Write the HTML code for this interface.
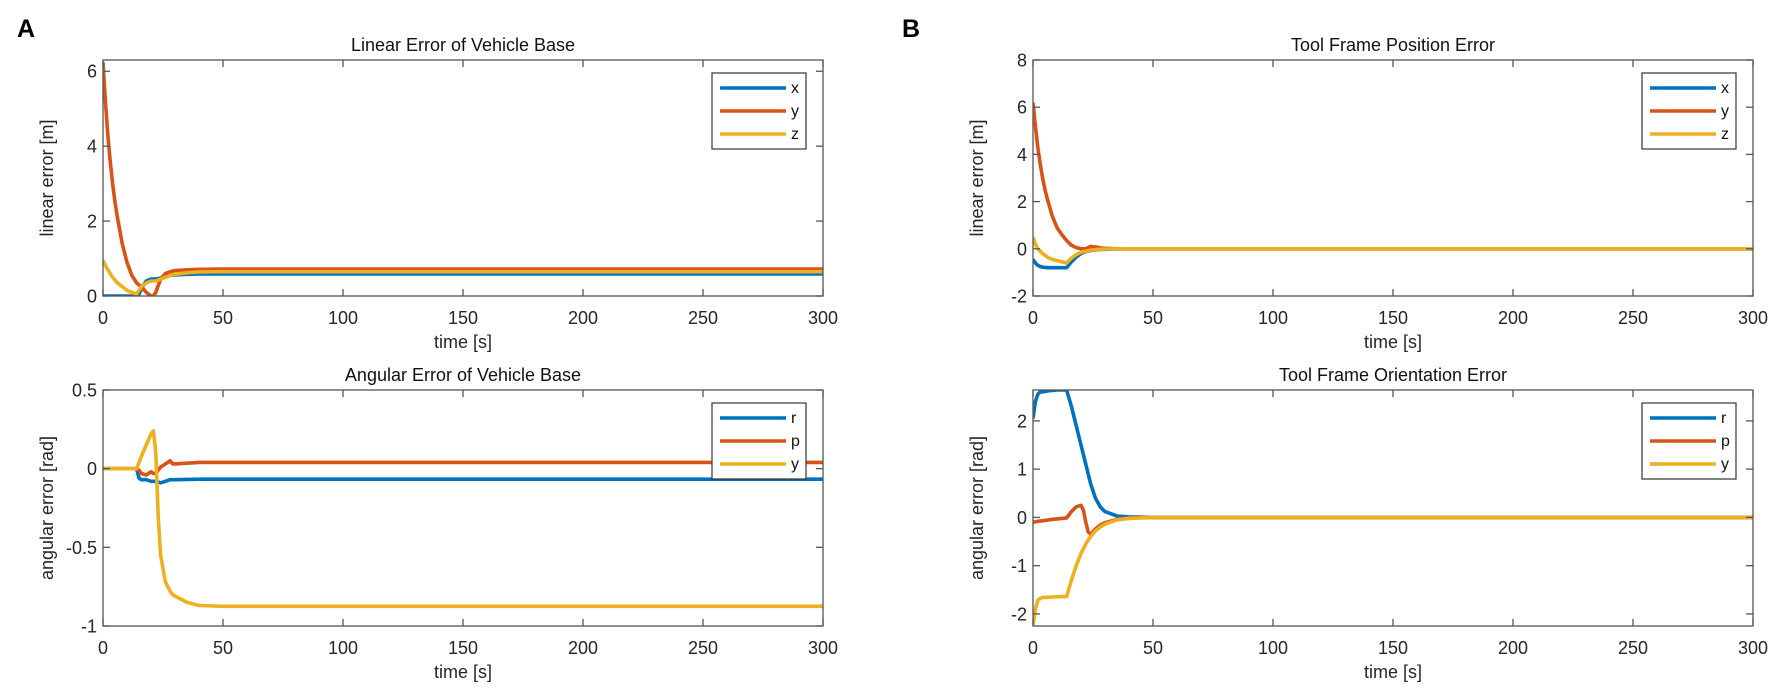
<!DOCTYPE html>
<html><head><meta charset="utf-8"><style>
html,body{margin:0;padding:0;background:#fff;}
svg{display:block;font-family:"Liberation Sans",Arial,sans-serif;}
</style></head><body>
<svg id="fig" width="1772" height="690" viewBox="0 0 1772 690">
<text x="17" y="37" font-size="25" font-weight="bold">A</text>
<text x="902" y="37" font-size="25" font-weight="bold">B</text>
</svg>
<script>
// ---- data ----
const timeTicks = [0,50,100,150,200,250,300];
const seriesColors = ["#0072BD","#D95319","#EDB120"];

// Panel A top: Linear Error of Vehicle Base
const aTopT = [0,1,2,3,4,5,6,8,10,12,14,15,16,18,20,21,22,24,26,28,30,35,40,50,300];
const aTopX = [0,0,0,0,0,0,0,0,0,0,0,0.05,0.2,0.4,0.45,0.45,0.45,0.48,0.52,0.55,0.56,0.58,0.59,0.59,0.59];
const aTopY = [6.24,5.2,4.3,3.6,3.0,2.5,2.1,1.4,0.9,0.55,0.35,0.3,0.25,0.1,0.0,0.0,0.1,0.45,0.6,0.65,0.68,0.7,0.71,0.72,0.72];
const aTopZ = [0.95,0.82,0.7,0.6,0.5,0.42,0.35,0.25,0.15,0.1,0.05,0.15,0.25,0.35,0.4,0.4,0.4,0.45,0.5,0.55,0.58,0.62,0.64,0.65,0.65];
const aTopYTicks = [0,2,4,6];

// Panel A bottom: Angular Error of Vehicle Base
const aBotT = [0,10,14,15,16,18,20,21,22,23,24,26,28,29,30,35,40,50,300];
const aBotR = [0,0,0,-0.06,-0.07,-0.07,-0.08,-0.08,-0.08,-0.085,-0.09,-0.08,-0.07,-0.07,-0.07,-0.068,-0.067,-0.067,-0.067];
const aBotP = [0,0,0,-0.01,-0.03,-0.04,-0.02,-0.03,-0.03,-0.01,0.01,0.03,0.05,0.03,0.03,0.035,0.04,0.04,0.04];
const aBotY = [0,0,0,0.04,0.08,0.15,0.22,0.24,0.1,-0.3,-0.55,-0.72,-0.78,-0.8,-0.81,-0.85,-0.87,-0.875,-0.875];
const aBotYTicks = [-1,-0.5,0,0.5];

// Panel B top: Tool Frame Position Error
const bTopT = [0,1,2,3,4,5,6,8,10,12,14,16,18,20,22,24,26,28,30,35,300];
const bTopX = [-0.45,-0.6,-0.7,-0.75,-0.78,-0.79,-0.8,-0.8,-0.8,-0.8,-0.8,-0.55,-0.35,-0.2,-0.12,-0.07,-0.05,-0.03,-0.02,0,0];
const bTopY = [6.2,5.2,4.3,3.6,3.0,2.5,2.1,1.4,0.9,0.6,0.35,0.15,0.05,0.0,0.0,0.1,0.08,0.04,0.02,0,0];
const bTopZ = [0.5,0.2,0.0,-0.1,-0.2,-0.28,-0.35,-0.45,-0.5,-0.55,-0.6,-0.4,-0.25,-0.15,-0.1,-0.06,-0.04,-0.02,-0.01,0,0];
const bTopYTicks = [-2,0,2,4,6,8];

// Panel B bottom: Tool Frame Orientation Error
const bBotT = [0,1,2,3,4,6,8,10,12,14,16,18,20,21,22,23,24,26,28,30,35,40,50,300];
const bBotR = [2.05,2.4,2.55,2.6,2.6,2.62,2.63,2.64,2.64,2.64,2.3,1.9,1.5,1.3,1.1,0.9,0.7,0.4,0.22,0.12,0.03,0.01,0,0];
const bBotP = [-0.1,-0.09,-0.08,-0.075,-0.07,-0.055,-0.04,-0.03,-0.02,-0.01,0.12,0.22,0.25,0.15,-0.1,-0.3,-0.35,-0.24,-0.16,-0.11,-0.04,-0.01,0,0];
const bBotY = [-2.24,-1.9,-1.72,-1.68,-1.66,-1.655,-1.65,-1.645,-1.64,-1.64,-1.3,-1.0,-0.75,-0.65,-0.55,-0.47,-0.4,-0.28,-0.2,-0.14,-0.05,-0.02,0,0];
const bBotYTicks = [-2,-1,0,1,2];

const NS = "http://www.w3.org/2000/svg";
const svg = document.getElementById("fig");
function mk(tag, attrs, parent){
  const e = document.createElementNS(NS, tag);
  for (const k in attrs) e.setAttribute(k, attrs[k]);
  (parent||svg).appendChild(e);
  return e;
}
let clipId = 0;
function panel(cfg){
  const {x0,x1,y0,y1,ymin,ymax,yTicks,title,ylabel,t,series,labels,prefix} = cfg;
  const g = mk("g", {});
  
  
  const sx = v => x0 + (v - 0) / 300 * (x1 - x0);
  const sy = v => y1 - (v - ymin) / (ymax - ymin) * (y1 - y0);
  const cid = "clip" + (clipId++);
  const cp = mk("clipPath", {id: cid}, g);
  mk("rect", {x: x0, y: y0, width: x1 - x0, height: y1 - y0}, cp);
  // series
  series.forEach((vals, i) => {
    const d = vals.map((v, k) => (k ? "L" : "M") + sx(t[k]).toFixed(1) + "," + sy(v).toFixed(1)).join(" ");
    const p = mk("path", {d: d, fill: "none", stroke: seriesColors[i], "stroke-width": 3.6, "stroke-linejoin": "round", "clip-path": "url(#" + cid + ")"}, g);
    
    
  });
  // axes box
  const box = mk("rect", {x: x0, y: y0, width: x1 - x0, height: y1 - y0, fill: "none", stroke: "#555", "stroke-width": 1.3}, g);
  
  
  // x ticks
  timeTicks.forEach(v => {
    const X = sx(v);
    mk("line", {x1: X, x2: X, y1: y1, y2: y1 - 7, stroke: "#555", "stroke-width": 1.3}, g);
    mk("line", {x1: X, x2: X, y1: y0, y2: y0 + 7, stroke: "#555", "stroke-width": 1.3}, g);
    const tl = mk("text", {x: X, y: y1 + 28, "font-size": 18, "text-anchor": "middle", fill: "#262626"}, g);
    tl.textContent = v;
    
    
  });
  yTicks.forEach(v => {
    const Y = sy(v);
    mk("line", {x1: x0, x2: x0 + 7, y1: Y, y2: Y, stroke: "#555", "stroke-width": 1.3}, g);
    mk("line", {x1: x1, x2: x1 - 7, y1: Y, y2: Y, stroke: "#555", "stroke-width": 1.3}, g);
    const tl = mk("text", {x: x0 - 6, y: Y + 6.5, "font-size": 18, "text-anchor": "end", fill: "#262626"}, g);
    tl.textContent = v;
    
    
  });
  const tt = mk("text", {x: (x0 + x1) / 2, y: y0 - 9, "font-size": 18, "text-anchor": "middle", fill: "#111"}, g);
  tt.textContent = title;
  
  
  const xl = mk("text", {x: (x0 + x1) / 2, y: y1 + 52, "font-size": 18, "text-anchor": "middle", fill: "#262626"}, g);
  xl.textContent = "time [s]";
  
  
  const cy = (y0 + y1) / 2;
  const yl = mk("text", {x: x0 - 50, y: cy, "font-size": 18, "text-anchor": "middle", fill: "#262626", transform: "rotate(-90 " + (x0 - 50) + " " + cy + ")"}, g);
  yl.textContent = ylabel;
  
  
  // legend
  const lx = x1 - 111, ly = y0 + 13;
  const lg = mk("g", {}, g);
  
  
  mk("rect", {x: lx, y: ly, width: 94, height: 76, fill: "#fff", stroke: "#333", "stroke-width": 1.2}, lg);
  labels.forEach((lab, i) => {
    const yy = ly + 15 + i * 23;
    const ln = mk("line", {x1: lx + 8, x2: lx + 74, y1: yy, y2: yy, stroke: seriesColors[i], "stroke-width": 3.6}, lg);
    
    
    const lt = mk("text", {x: lx + 79, y: yy + 5, "font-size": 16, fill: "#111"}, lg);
    lt.textContent = lab;
    
    
  });
}
panel({prefix:"a-top",x0:103,x1:823,y0:60,y1:296,ymin:0,ymax:6.3,yTicks:aTopYTicks,title:"Linear Error of Vehicle Base",ylabel:"linear error [m]",t:aTopT,series:[aTopX,aTopY,aTopZ],labels:["x","y","z"]});
panel({prefix:"a-bottom",x0:103,x1:823,y0:390,y1:626,ymin:-1,ymax:0.5,yTicks:aBotYTicks,title:"Angular Error of Vehicle Base",ylabel:"angular error [rad]",t:aBotT,series:[aBotR,aBotP,aBotY],labels:["r","p","y"]});
panel({prefix:"b-top",x0:1033,x1:1753,y0:60,y1:296,ymin:-2,ymax:8,yTicks:bTopYTicks,title:"Tool Frame Position Error",ylabel:"linear error [m]",t:bTopT,series:[bTopX,bTopY,bTopZ],labels:["x","y","z"]});
panel({prefix:"b-bottom",x0:1033,x1:1753,y0:390,y1:626,ymin:-2.25,ymax:2.64,yTicks:bBotYTicks,title:"Tool Frame Orientation Error",ylabel:"angular error [rad]",t:bBotT,series:[bBotR,bBotP,bBotY],labels:["r","p","y"]});
</script>
</body></html>
